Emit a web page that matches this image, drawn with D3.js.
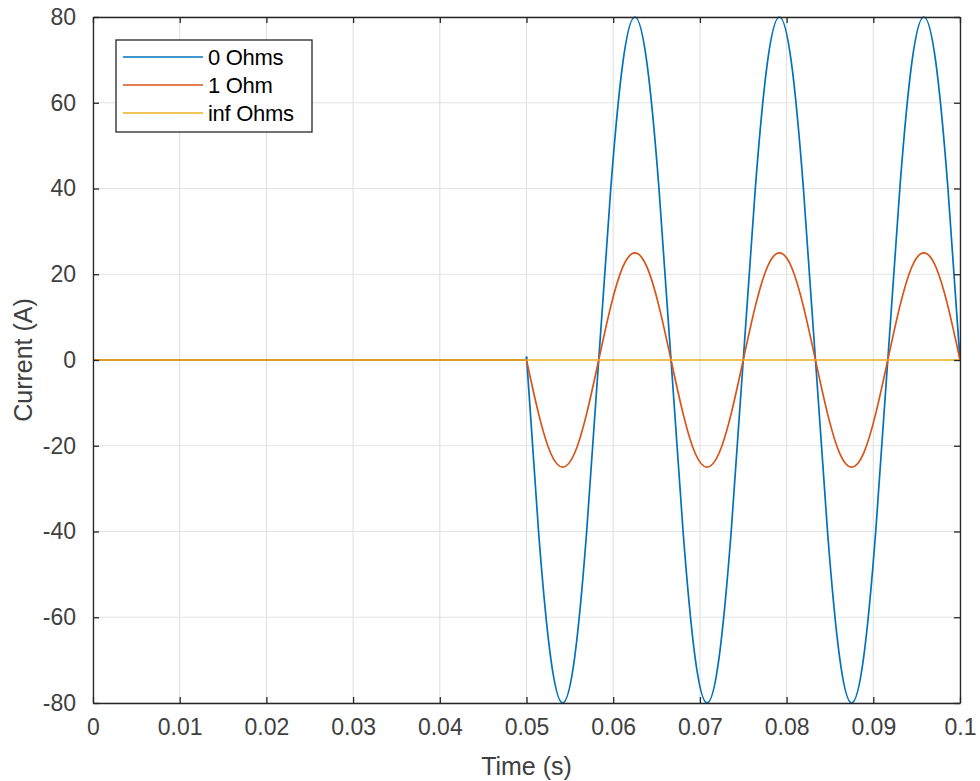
<!DOCTYPE html>
<html>
<head>
<meta charset="utf-8">
<script src="https://cdn.jsdelivr.net/npm/d3@7"></script>
<style>
  html, body { margin: 0; padding: 0; background: #fff; }
  svg { display: block; font-family: "Liberation Sans", Arial, Helvetica, sans-serif; }
</style>
</head>
<body>
<svg id="chart" width="980" height="781"></svg>
<script>
// ---- Data ----
const seriesNames = ["0 Ohms", "1 Ohm", "inf Ohms"];
const seriesColors = ["#0072BD", "#D95319", "#EDB120"];

// before the switch (all currents are zero)
const timeBefore = [0, 0.05];
const currentBefore = [0, 0];

// after the switch at t = 0.05 s
const timeAfter = [0.05,
  0.05139, 0.05278, 0.05417, 0.05556, 0.05694, 0.05833,
  0.05972, 0.06111, 0.0625, 0.06389, 0.06528, 0.06667,
  0.06806, 0.06944, 0.07083, 0.07222, 0.07361, 0.075,
  0.07639, 0.07778, 0.07917, 0.08056, 0.08194, 0.08333,
  0.08472, 0.08611, 0.0875, 0.08889, 0.09028, 0.09167,
  0.09306, 0.09444, 0.09583, 0.09722, 0.09861, 0.1];

const current0Ohms = [0.8,
  -40, -69.3, -80, -69.3, -40, 0,
  40, 69.3, 80, 69.3, 40, 0,
  -40, -69.3, -80, -69.3, -40, 0,
  40, 69.3, 80, 69.3, 40, 0,
  -40, -69.3, -80, -69.3, -40, 0,
  40, 69.3, 80, 69.3, 40, 0];

const current1Ohm = [0,
  -12.5, -21.7, -25, -21.7, -12.5, 0,
  12.5, 21.7, 25, 21.7, 12.5, 0,
  -12.5, -21.7, -25, -21.7, -12.5, 0,
  12.5, 21.7, 25, 21.7, 12.5, 0,
  -12.5, -21.7, -25, -21.7, -12.5, 0,
  12.5, 21.7, 25, 21.7, 12.5, 0];

const timeInf = [0, 0.1];
const currentInfOhms = [0, 0];

const xTicks = [0, 0.01, 0.02, 0.03, 0.04, 0.05, 0.06, 0.07, 0.08, 0.09, 0.1];
const xTickLabels = ["0", "0.01", "0.02", "0.03", "0.04", "0.05", "0.06", "0.07", "0.08", "0.09", "0.1"];
const yTicks = [-80, -60, -40, -20, 0, 20, 40, 60, 80];
const yTickLabels = ["-80", "-60", "-40", "-20", "0", "20", "40", "60", "80"];

// ---- Layout ----
const pLeft = 93, pRight = 960, pTop = 17, pBottom = 703;
const svg = d3.select("#chart");

const x = d3.scaleLinear().domain([0, 0.1]).range([pLeft, pRight]);
const y = d3.scaleLinear().domain([-80, 80]).range([pBottom, pTop]);

const axisColor = "#262626";
const textColor = "#404040";

// grid
const grid = svg.append("g");
grid.selectAll("line.vx").data(xTicks).join("line")
  .attr("class", "vx")
  .attr("x1", d => x(d)).attr("x2", d => x(d))
  .attr("y1", pTop).attr("y2", pBottom)
  .attr("stroke", "#e3e3e3").attr("stroke-width", 1.2);
grid.selectAll("line.hy").data(yTicks).join("line")
  .attr("class", "hy")
  .attr("x1", pLeft).attr("x2", pRight)
  .attr("y1", d => y(d)).attr("y2", d => y(d))
  .attr("stroke", "#e3e3e3").attr("stroke-width", 1.2);

// clip
svg.append("clipPath").attr("id", "clip").append("rect")
  .attr("x", pLeft).attr("y", pTop - 1).attr("width", pRight - pLeft).attr("height", pBottom - pTop + 2);

const lineLinear = d3.line().x(d => x(d[0])).y(d => y(d[1]));
const lineSmooth = d3.line().x(d => x(d[0])).y(d => y(d[1])).curve(d3.curveNatural);

const zip = (ts, vs) => ts.map((t, i) => [t, vs[i]]);

const seriesPaths = [
  [{ d: lineLinear(zip(timeBefore, currentBefore).concat([[timeAfter[0], current0Ohms[0]]])) },
   { d: lineSmooth(zip(timeAfter, current0Ohms)) }],
  [{ d: lineLinear(zip(timeBefore, currentBefore)) },
   { d: lineSmooth(zip(timeAfter, current1Ohm)) }],
  [{ d: lineLinear(zip(timeInf, currentInfOhms)) }]
];

const plot = svg.append("g").attr("clip-path", "url(#clip)");
seriesPaths.forEach((parts, i) => {
  parts.forEach(p => {
    plot.append("path")
      .attr("d", p.d)
      .attr("fill", "none")
      .attr("stroke", seriesColors[i])
      .attr("stroke-width", 1.7)
      .attr("stroke-linejoin", "round");
  });
});

// axes via d3 axis (ticks inward)
const xAxis = d3.axisBottom(x).tickValues(xTicks)
  .tickFormat((d, i) => xTickLabels[i]).tickSizeInner(-6).tickSizeOuter(0).tickPadding(16);
const yAxis = d3.axisLeft(y).tickValues(yTicks)
  .tickFormat((d, i) => yTickLabels[i]).tickSizeInner(-6).tickSizeOuter(0).tickPadding(17);

const gx = svg.append("g").attr("transform", `translate(0,${pBottom})`).call(xAxis);
const gy = svg.append("g").attr("transform", `translate(${pLeft},0)`).call(yAxis);
[gx, gy].forEach(g => {
  g.select(".domain").attr("stroke", axisColor).attr("stroke-width", 1.3);
  g.selectAll(".tick line").attr("stroke", axisColor).attr("stroke-width", 1.3);
  g.selectAll(".tick text").attr("fill", textColor).attr("font-size", 23)
    .attr("font-family", "'Liberation Sans', Arial, sans-serif");
});

// top and right ticks (box)
const gxTop = svg.append("g").attr("transform", `translate(0,${pTop})`)
  .call(d3.axisTop(x).tickValues(xTicks).tickFormat("").tickSizeInner(-6).tickSizeOuter(0));
const gyRight = svg.append("g").attr("transform", `translate(${pRight},0)`)
  .call(d3.axisRight(y).tickValues(yTicks).tickFormat("").tickSizeInner(-6).tickSizeOuter(0));
[gxTop, gyRight].forEach(g => {
  g.select(".domain").attr("stroke", axisColor).attr("stroke-width", 1.3);
  g.selectAll(".tick line").attr("stroke", axisColor).attr("stroke-width", 1.3);
});

// axis labels
svg.append("text")
  .attr("x", (pLeft + pRight) / 2).attr("y", 775)
  .attr("text-anchor", "middle").attr("font-size", 25).attr("fill", textColor)
  .text("Time (s)");
svg.append("text")
  .attr("transform", `translate(32,${(pTop + pBottom) / 2}) rotate(-90)`)
  .attr("text-anchor", "middle").attr("font-size", 25).attr("fill", textColor)
  .text("Current (A)");

// legend
const lg = svg.append("g");
lg.append("rect").attr("x", 116).attr("y", 40).attr("width", 196).attr("height", 92)
  .attr("fill", "#fff").attr("stroke", axisColor).attr("stroke-width", 1.3);
seriesNames.forEach((name, i) => {
  const cy = 57 + i * 28;
  lg.append("line").attr("x1", 123).attr("x2", 203).attr("y1", cy).attr("y2", cy)
    .attr("stroke", seriesColors[i]).attr("stroke-width", 1.7);
  lg.append("text").attr("x", 208).attr("y", cy).attr("dy", "0.36em")
    .attr("font-size", 22).attr("fill", "#000").attr("letter-spacing", "-0.3")
    .text(name);
});
</script>
</body>
</html>
